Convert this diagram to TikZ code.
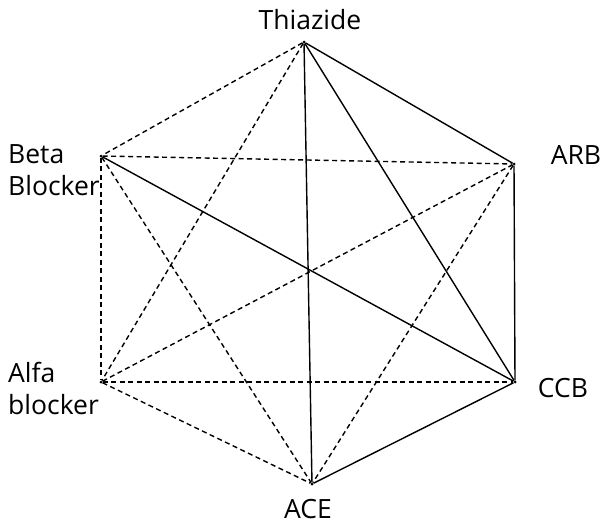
\documentclass[tikz,border=0pt]{standalone}
\usepackage{fontspec}
\setmainfont{Open Sans}
\usetikzlibrary{positioning}
\tikzset{
  vertex/.style={circle, fill=black, inner sep=0pt, minimum size=3pt},
  drugLabel/.style={font=\fontsize{26.5}{32}\selectfont, inner sep=0pt, align=left},
  solidEdge/.style={line width=1.4pt, color=black},
  dashedEdge/.style={line width=1.4pt, color=black, dash pattern=on 5pt off 3.5pt}
}
\begin{document}
\begin{tikzpicture}[x=1pt, y=-1pt]
  \useasboundingbox (0,0) rectangle (602,525);
  % hexagon corners
  \node[vertex] (thz) at (304,42) {};
  \node[vertex] (arb) at (514,164) {};
  \node[vertex] (ccb) at (515,382) {};
  \node[vertex] (ace) at (312,484) {};
  \node[vertex] (alf) at (101,382) {};
  \node[vertex] (bet) at (101,156) {};
  % drug names
  \node[drugLabel] (thzLabel) at (310,20) {Thiazide};
  \node[drugLabel] (arbLabel) at (576,155) {ARB};
  \node[drugLabel] (ccbLabel) at (563,388) {CCB};
  \node[drugLabel] (aceLabel) at (308,509) {ACE};
  \node[drugLabel, anchor=west] (betLabel) at (8,170) {Beta\\Blocker};
  \node[drugLabel, anchor=west] (alfLabel) at (8,388) {Alfa\\blocker};
  % solid combinations
  \foreach \a/\b in {thz/arb, thz/ccb, thz/ace, arb/ccb, bet/ccb, ccb/ace}
    \draw[solidEdge] (\a) -- (\b);
  % dashed combinations
  \foreach \a/\b in {thz/bet, thz/alf, bet/arb, bet/alf, bet/ace,
                     alf/arb, alf/ccb, alf/ace, arb/ace}
    \draw[dashedEdge] (\a) -- (\b);
\end{tikzpicture}
\end{document}
